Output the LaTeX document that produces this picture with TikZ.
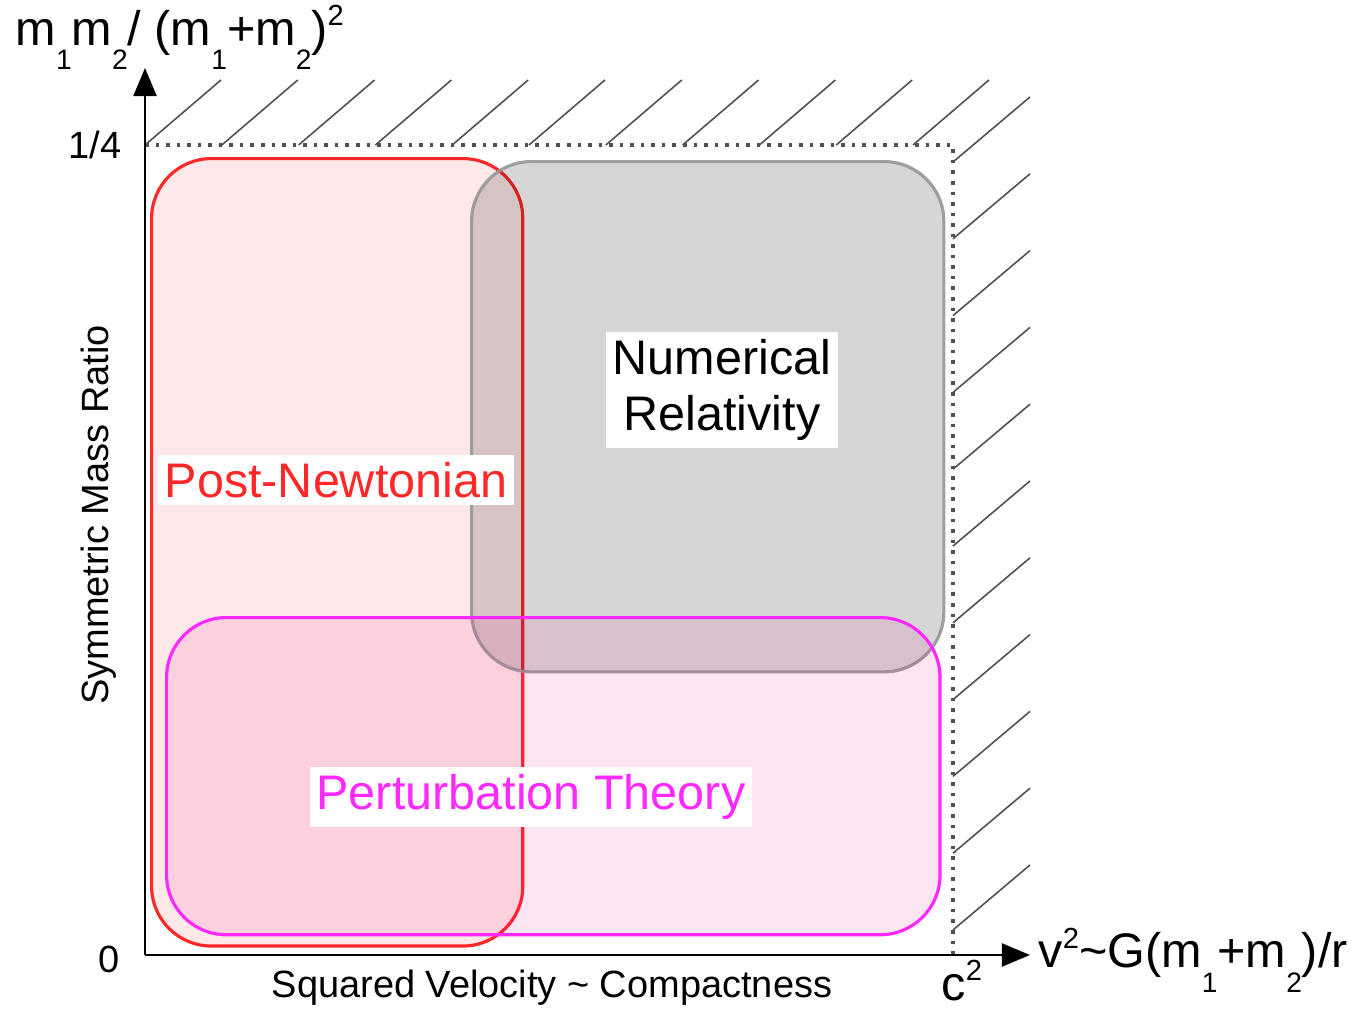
\documentclass[tikz,border=0pt]{standalone}
\usepackage{fontspec}
\setmainfont{Liberation Sans}
\usetikzlibrary{arrows.meta, positioning, calc}
\definecolor{PNrojo}{RGB}{255,40,40}
\definecolor{NRgris}{RGB}{150,150,150}
\definecolor{PTmag}{RGB}{255,40,255}
\definecolor{rayado}{RGB}{80,80,80}
\newcommand{\sbi}[1]{\raisebox{-0.5em}{\scalebox{0.58}{#1}}}
\newcommand{\spi}[1]{\raisebox{0.4em}{\scalebox{0.6}{#1}}}

\begin{document}
\begin{tikzpicture}[
  x=0.01cm, y=-0.01cm,
  every node/.style={font=\fontsize{13.8}{16}\selectfont},
  region/.style={
    rectangle, rounded corners=17pt,
    line width=0.9pt, inner sep=0pt,
    anchor=north west
  },
  rotulo/.style={fill=white, inner sep=2pt, align=center},
  eje/.style={line width=0.85pt, -{Triangle[length=8pt, width=6.5pt]}},
  marca/.style={font=\fontsize{10.8}{13}\selectfont},
  rayas/.style={rayado, line width=0.45pt},
  borde/.style={rayado, line width=1pt, dotted}
]
  \useasboundingbox (0,0) rectangle (1353,1009);

  % --- Regiones ---
  \node[region, draw=PNrojo, fill=red, fill opacity=0.09,
        minimum width=3.71cm, minimum height=7.87cm] (pn) at (150,157) {};
  \node[region, draw=NRgris, draw opacity=0.9, fill=black, fill opacity=0.16,
        minimum width=4.72cm, minimum height=5.10cm] (nr) at (470,160) {};
  \node[region, draw=PTmag, fill=magenta, fill opacity=0.1,
        minimum width=7.73cm, minimum height=3.17cm] (pt) at (165,616) {};

  % --- Rayado de la zona prohibida ---
  \coordinate (origen) at (145,955);
  \coordinate (esq)    at (953,145);
  \foreach \k in {0,...,10}
    \draw[rayas] ($(145,145)+(76.8*\k,0)$) -- ++(76,-65);
  \foreach \k in {0,...,10}
    \draw[rayas] ($(953,162)+(0,76.8*\k)$) -- ++(77,-65);
  \draw[borde] (origen |- esq) -- (esq) -- (esq |- origen);

  % --- Ejes ---
  \coordinate (ytope) at (145,68);
  \coordinate (xtope) at (1030,955);
  \draw[eje] (origen) -- (ytope);
  \draw[eje] (origen) -- (xtope);

  % --- Textos de los ejes ---
  \node[anchor=base west, inner sep=0pt] (ylab) at (15,45)
    {m\sbi{1}m\sbi{2}/ (m\sbi{1}+m\sbi{2})\spi{2}};
  \node[anchor=base west, inner sep=0pt] (xlab) at (1038,968)
    {v\spi{2}\textasciitilde G(m\sbi{1}+m\sbi{2})/r};
  \node[marca, anchor=base east, inner sep=0pt] (cuarto) at (122,158) {1/4};
  \node[marca, anchor=base east, inner sep=0pt] (cero)   at (120,972) {0};
  \node[anchor=base west, inner sep=0pt] (cdos) at (941,1000) {c\spi{2}};
  \node[marca, anchor=base, inner sep=0pt] (xnom) at (552,998)
    {Squared Velocity \textasciitilde{} Compactness};
  \node[marca, rotate=90, inner sep=0pt] (ynom) at (99,515) {Symmetric Mass Ratio};

  % --- Nombres de las regiones ---
  \node[rotulo, text=PNrojo] (pnlab) at (336,480) {Post-Newtonian};
  \node[rotulo, text=black]  (nrlab) at (722,390) {Numerical\\Relativity};
  \node[rotulo, text=PTmag]  (ptlab) at (531,797) {Perturbation Theory};
\end{tikzpicture}
\end{document}
